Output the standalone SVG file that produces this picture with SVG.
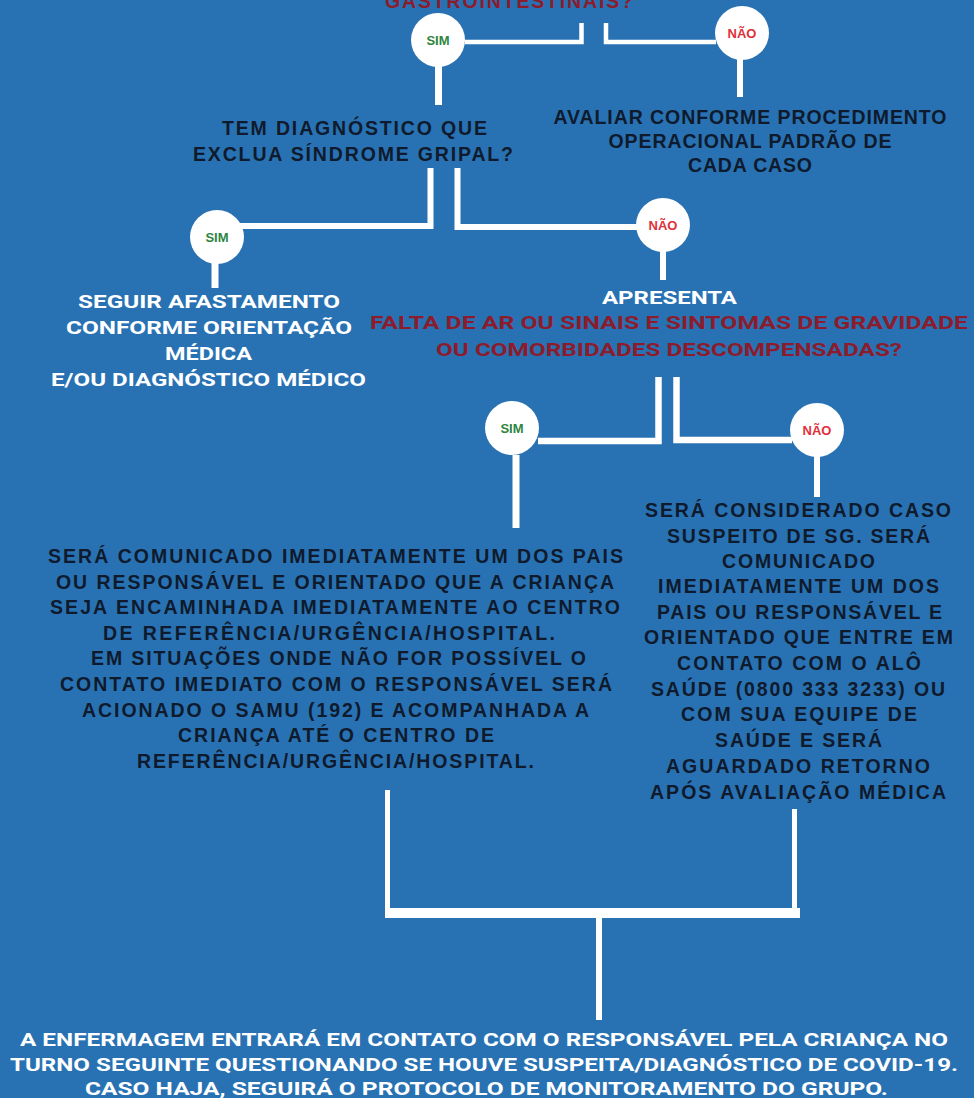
<svg xmlns="http://www.w3.org/2000/svg" width="974" height="1098" viewBox="0 0 974 1098">
<style>
.bg{fill:#2872b3}
.ln{fill:none;stroke:#ffffff;stroke-linecap:butt;stroke-linejoin:miter}
.dot{fill:#ffffff}
.dk{font-family:"Liberation Sans",Arial,sans-serif;font-weight:bold;font-size:19.5px;fill:#0f1a2d;text-anchor:middle}
.rq{font-family:"Liberation Sans",Arial,sans-serif;font-weight:bold;font-size:19.5px;fill:#8c1c2c;text-anchor:middle}
.wc{font-family:Roboto,"Liberation Sans",sans-serif;font-weight:bold;font-size:19px;fill:#ffffff;text-anchor:middle}
.rc{font-family:Roboto,"Liberation Sans",sans-serif;font-weight:bold;font-size:19px;fill:#8c1c2c;text-anchor:middle}
.sim{font-family:"Liberation Sans",Arial,sans-serif;font-weight:bold;font-size:13px;fill:#2e8540;text-anchor:middle}
.nao{font-family:"Liberation Sans",Arial,sans-serif;font-weight:bold;font-size:13px;fill:#e0303a;text-anchor:middle}
</style>
<rect class="bg" x="0" y="0" width="974" height="1098"/>

<g id="connectors">
  <path class="ln" stroke-width="4.5" d="M465 42 H581.5 V23"/>
  <path class="ln" stroke-width="4.5" d="M606 23 V42 H716"/>
  <path class="ln" stroke-width="7" d="M438.5 66 V105"/>
  <path class="ln" stroke-width="6" d="M740 59 V97"/>
  <path class="ln" stroke-width="6" d="M430.5 168 V226 H240"/>
  <path class="ln" stroke-width="6" d="M457.5 168 V227 H640"/>
  <path class="ln" stroke-width="7" d="M215 262 V288"/>
  <path class="ln" stroke-width="6" d="M663 250 V280"/>
  <path class="ln" stroke-width="6.5" d="M658.5 377 V441 H538"/>
  <path class="ln" stroke-width="6.5" d="M676.5 377 V440 H792"/>
  <path class="ln" stroke-width="7" d="M516 455 V528"/>
  <path class="ln" stroke-width="6" d="M817 456 V497"/>
  <path class="ln" stroke-width="5" d="M387.5 790 V912"/>
  <path class="ln" stroke-width="5" d="M794.5 809 V912"/>
  <path class="ln" stroke-width="10" d="M385 913 H800"/>
  <path class="ln" stroke-width="6" d="M599 918 V1020"/>
</g>

<g id="q1">
  <text class="rq" x="509" y="8" textLength="248" lengthAdjust="spacing">GASTROINTESTINAIS?</text>
</g>
<g id="sim1"><circle class="dot" cx="438" cy="40" r="27"/><text class="sim" x="438" y="45">SIM</text></g>
<g id="nao1"><circle class="dot" cx="742" cy="33" r="27"/><text class="nao" x="742" y="38">NÃO</text></g>

<g id="q2">
  <text class="dk" x="354.5" y="135" textLength="265" lengthAdjust="spacing">TEM DIAGNÓSTICO QUE</text>
  <text class="dk" x="353" y="161" textLength="320" lengthAdjust="spacing">EXCLUA SÍNDROME GRIPAL?</text>
</g>
<g id="avaliar">
  <text class="dk" x="750" y="124" textLength="393" lengthAdjust="spacing">AVALIAR CONFORME PROCEDIMENTO</text>
  <text class="dk" x="750" y="148" textLength="283" lengthAdjust="spacing">OPERACIONAL PADRÃO DE</text>
  <text class="dk" x="750" y="172" textLength="124" lengthAdjust="spacing">CADA CASO</text>
</g>

<g id="sim2"><circle class="dot" cx="217" cy="237" r="27"/><text class="sim" x="217" y="242">SIM</text></g>
<g id="nao2"><circle class="dot" cx="663" cy="225" r="27"/><text class="nao" x="663" y="230">NÃO</text></g>

<g id="seguir">
  <text class="wc" x="209" y="308" textLength="262" lengthAdjust="spacingAndGlyphs">SEGUIR AFASTAMENTO</text>
  <text class="wc" x="209" y="334" textLength="286" lengthAdjust="spacingAndGlyphs">CONFORME ORIENTAÇÃO</text>
  <text class="wc" x="208.5" y="360" textLength="87" lengthAdjust="spacingAndGlyphs">MÉDICA</text>
  <text class="wc" x="208.5" y="386" textLength="315" lengthAdjust="spacingAndGlyphs">E/OU DIAGNÓSTICO MÉDICO</text>
</g>

<g id="q3">
  <text class="wc" x="669.5" y="304" textLength="135" lengthAdjust="spacingAndGlyphs">APRESENTA</text>
  <text class="rc" x="669" y="329" textLength="598" lengthAdjust="spacingAndGlyphs">FALTA DE AR OU SINAIS E SINTOMAS DE GRAVIDADE</text>
  <text class="rc" x="669" y="356" textLength="466" lengthAdjust="spacingAndGlyphs">OU COMORBIDADES DESCOMPENSADAS?</text>
</g>

<g id="sim3"><circle class="dot" cx="512" cy="428" r="27"/><text class="sim" x="512" y="433">SIM</text></g>
<g id="nao3"><circle class="dot" cx="817" cy="430" r="27"/><text class="nao" x="817" y="435">NÃO</text></g>

<g id="encaminhar">
  <text class="dk" x="335.5" y="563" textLength="575" lengthAdjust="spacing">SERÁ COMUNICADO IMEDIATAMENTE UM DOS PAIS</text>
  <text class="dk" x="335" y="588.5" textLength="558" lengthAdjust="spacing">OU RESPONSÁVEL E ORIENTADO QUE A CRIANÇA</text>
  <text class="dk" x="335" y="614" textLength="570" lengthAdjust="spacing">SEJA ENCAMINHADA IMEDIATAMENTE AO CENTRO</text>
  <text class="dk" x="329" y="640" textLength="452" lengthAdjust="spacing">DE REFERÊNCIA/URGÊNCIA/HOSPITAL.</text>
  <text class="dk" x="338.5" y="665" textLength="495" lengthAdjust="spacing">EM SITUAÇÕES ONDE NÃO FOR POSSÍVEL O</text>
  <text class="dk" x="336" y="691" textLength="552" lengthAdjust="spacing">CONTATO IMEDIATO COM O RESPONSÁVEL SERÁ</text>
  <text class="dk" x="335.5" y="717" textLength="507" lengthAdjust="spacing">ACIONADO O SAMU (192) E ACOMPANHADA A</text>
  <text class="dk" x="336" y="742" textLength="316" lengthAdjust="spacing">CRIANÇA ATÉ O CENTRO DE</text>
  <text class="dk" x="335.5" y="768" textLength="397" lengthAdjust="spacing">REFERÊNCIA/URGÊNCIA/HOSPITAL.</text>
</g>

<g id="suspeito">
  <text class="dk" x="798" y="517" textLength="306" lengthAdjust="spacing">SERÁ CONSIDERADO CASO</text>
  <text class="dk" x="798.5" y="543" textLength="263" lengthAdjust="spacing">SUSPEITO DE SG. SERÁ</text>
  <text class="dk" x="798.5" y="568" textLength="153" lengthAdjust="spacing">COMUNICADO</text>
  <text class="dk" x="798.5" y="593" textLength="281" lengthAdjust="spacing">IMEDIATAMENTE UM DOS</text>
  <text class="dk" x="799.5" y="619" textLength="285" lengthAdjust="spacing">PAIS OU RESPONSÁVEL E</text>
  <text class="dk" x="798.5" y="644" textLength="309" lengthAdjust="spacing">ORIENTADO QUE ENTRE EM</text>
  <text class="dk" x="799" y="670" textLength="244" lengthAdjust="spacing">CONTATO COM O ALÔ</text>
  <text class="dk" x="798" y="696" textLength="294" lengthAdjust="spacing">SAÚDE (0800 333 3233) OU</text>
  <text class="dk" x="799" y="721" textLength="236" lengthAdjust="spacing">COM SUA EQUIPE DE</text>
  <text class="dk" x="798.5" y="747" textLength="167" lengthAdjust="spacing">SAÚDE E SERÁ</text>
  <text class="dk" x="798" y="773" textLength="264" lengthAdjust="spacing">AGUARDADO RETORNO</text>
  <text class="dk" x="798" y="799" textLength="296" lengthAdjust="spacing">APÓS AVALIAÇÃO MÉDICA</text>
</g>

<g id="enfermagem">
  <text class="wc" x="484" y="1046" textLength="928" lengthAdjust="spacingAndGlyphs">A ENFERMAGEM ENTRARÁ EM CONTATO COM O RESPONSÁVEL PELA CRIANÇA NO</text>
  <text class="wc" x="484" y="1071" textLength="948" lengthAdjust="spacingAndGlyphs">TURNO SEGUINTE QUESTIONANDO SE HOUVE SUSPEITA/DIAGNÓSTICO DE COVID-19.</text>
  <text class="wc" x="486.5" y="1095" textLength="803" lengthAdjust="spacingAndGlyphs">CASO HAJA, SEGUIRÁ O PROTOCOLO DE MONITORAMENTO DO GRUPO.</text>
</g>
</svg>
